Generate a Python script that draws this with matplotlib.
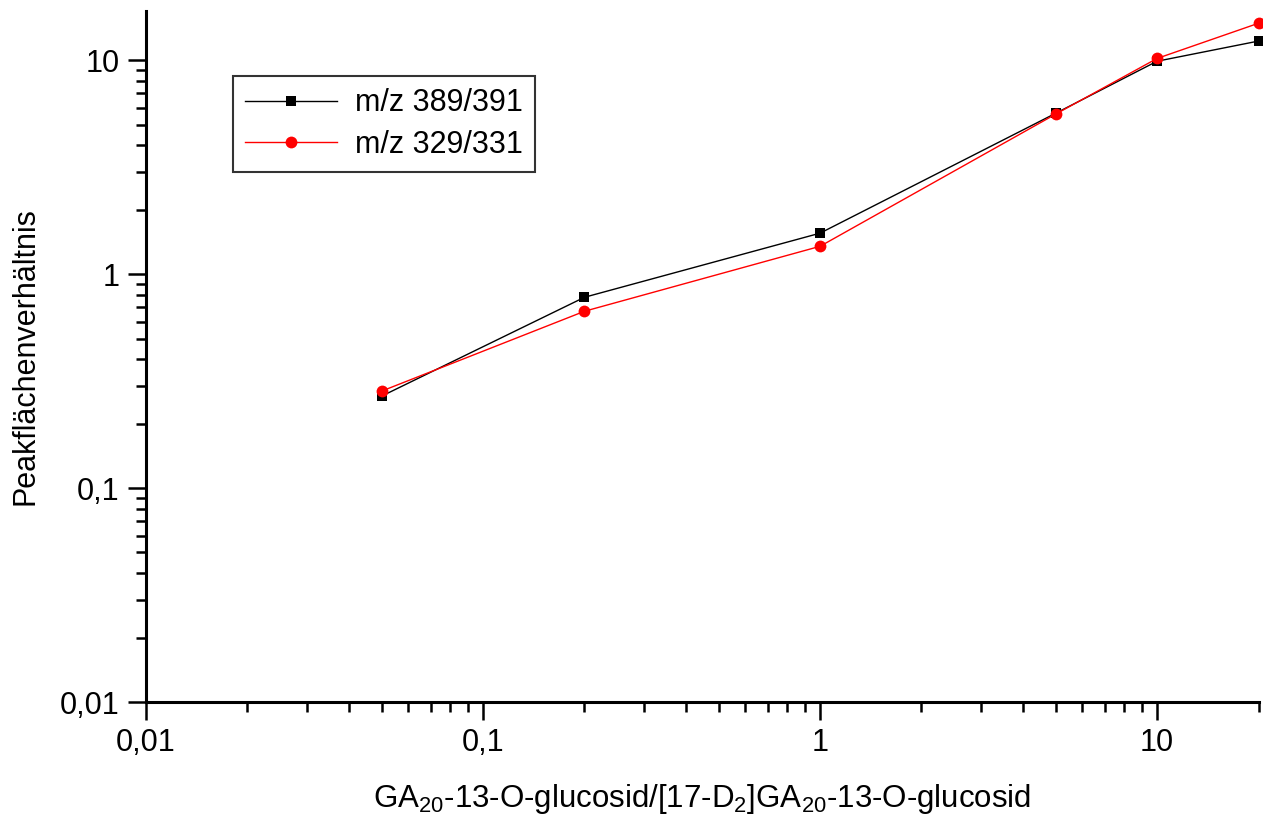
import matplotlib
matplotlib.use("Agg")
import matplotlib.pyplot as plt
from matplotlib.ticker import LogLocator, FixedLocator, FuncFormatter, NullFormatter

plt.rcParams["font.family"] = ["Liberation Sans", "DejaVu Sans"]
plt.rcParams["mathtext.fontset"] = "custom"
plt.rcParams["mathtext.rm"] = "Liberation Sans"
plt.rcParams["mathtext.default"] = "regular"

# --- Daten ---
ratio = [0.05, 0.2, 1, 5, 10, 20]
area_389 = [0.269, 0.78, 1.555, 5.65, 9.9, 12.3]
area_329 = [0.284, 0.671, 1.35, 5.6, 10.2, 14.9]
labels = ["m/z 389/391", "m/z 329/331"]
tick_text = {0.01: "0,01", 0.1: "0,1", 1: "1", 10: "10"}

fig = plt.figure(figsize=(12.63, 8.27), dpi=100)
ax = fig.add_axes([146 / 1263, 125 / 827, 1112.5 / 1263, 691 / 827])

ax.plot(ratio, area_389, color="black", lw=1.0, marker="s", ms=7.5,
        markeredgewidth=0, label=labels[0], clip_on=False, zorder=3)
ax.plot(ratio, area_329, color="red", lw=1.0, marker="o", ms=8.5,
        markeredgewidth=0, label=labels[1], clip_on=False, zorder=4)

ax.set_xscale("log")
ax.set_yscale("log")
ax.set_xlim(0.01, 20)
ax.set_ylim(0.01, 17)

fmt = FuncFormatter(lambda v, p: tick_text.get(round(v, 4), ""))
for axis in (ax.xaxis, ax.yaxis):
    axis.set_major_locator(FixedLocator([0.01, 0.1, 1, 10]))
    axis.set_major_formatter(fmt)
    axis.set_minor_locator(LogLocator(base=10, subs=range(2, 10), numticks=20))
    axis.set_minor_formatter(NullFormatter())

ax.spines[["top", "right"]].set_visible(False)
for s in ("left", "bottom"):
    ax.spines[s].set_linewidth(2.2)
ax.tick_params(which="major", direction="out", length=13, width=1.8,
               labelsize=22, pad=6)
ax.tick_params(which="minor", direction="out", length=7, width=1.8)

ax.set_xlabel(r"GA$_{20}$-13-O-glucosid/[17-D$_2$]GA$_{20}$-13-O-glucosid",
              fontsize=22.5, labelpad=17)
ax.set_ylabel("Peakflächenverhältnis", fontsize=22, labelpad=14)

leg = ax.legend(loc="upper left", bbox_to_anchor=(87 / 1112.5, 1 - 65 / 691),
                fontsize=22, frameon=True, fancybox=False, handlelength=3.0,
                borderpad=0.4, labelspacing=0.38, handletextpad=0.6,
                borderaxespad=0)
leg.get_frame().set_edgecolor("black")
leg.get_frame().set_linewidth(1.5)

fig.savefig("out.png", dpi=100)
